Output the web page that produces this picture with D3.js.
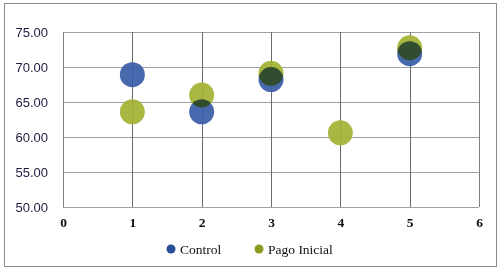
<!DOCTYPE html>
<html>
<head>
<meta charset="utf-8">
<script src="https://cdn.jsdelivr.net/npm/d3@7"></script>
<style>
  body { margin: 0; background: #fff; }
  svg { display: block; }
</style>
</head>
<body>
<div id="chart"></div>
<script>
// PLOT DEFAULTS
const SVG_WIDTH = 503;
const SVG_HEIGHT = 273;
const MARGIN = { left: 63, right: 24, top: 32, bottom: 66 };
const WIDTH = SVG_WIDTH - MARGIN.left - MARGIN.right;
const HEIGHT = SVG_HEIGHT - MARGIN.top - MARGIN.bottom;
const RADIUS = 12.5;

// DATA
const controlX = [1, 2, 3, 5];
const controlY = [68.9, 63.6, 68.2, 71.9];
const pagoX = [1, 2, 3, 4, 5];
const pagoY = [63.6, 66.0, 69.1, 60.6, 72.75];
const xTicks = [0, 1, 2, 3, 4, 5, 6];
const yTicks = [50, 55, 60, 65, 70, 75];
const seriesNames = ['Control', 'Pago Inicial'];
const seriesColors = ['#3a5ca8', '#a3b233'];

const svg = d3.select('#chart')
  .append('svg')
  .attr('width', SVG_WIDTH)
  .attr('height', SVG_HEIGHT);

// outer frame
svg.append('rect')
  .attr('x', 4.5).attr('y', 3.5)
  .attr('width', 492).attr('height', 263)
  .attr('fill', 'none')
  .attr('stroke', '#8a8a8a');

const g = svg.append('g')
  .attr('transform', `translate(${MARGIN.left}, ${MARGIN.top})`);

const xScale = d3.scaleLinear().domain([0, 6]).range([0, WIDTH]);
const yScale = d3.scaleLinear().domain([50, 75]).range([HEIGHT, 0]);

// horizontal grid
g.append('g')
  .selectAll('line')
  .data(yTicks)
  .join('line')
  .attr('x1', 0).attr('x2', WIDTH)
  .attr('y1', d => Math.round(yScale(d)) + 0.5)
  .attr('y2', d => Math.round(yScale(d)) + 0.5)
  .attr('stroke', '#a0a0a0');

// vertical grid
g.append('g')
  .selectAll('line')
  .data(xTicks)
  .join('line')
  .attr('y1', 0).attr('y2', HEIGHT)
  .attr('x1', d => Math.round(xScale(d)) + 0.5)
  .attr('x2', d => Math.round(xScale(d)) + 0.5)
  .attr('stroke', d => (d === 0 || d === 6) ? '#808080' : '#6a6a6a');

// y axis labels
const yAxis = g.append('g')
  .call(d3.axisLeft(yScale).tickValues(yTicks).tickFormat(d3.format('.2f')).tickSize(0).tickPadding(15));
yAxis.select('.domain').remove();
yAxis.selectAll('text')
  .attr('font-family', 'Liberation Sans, Arial, sans-serif')
  .attr('font-size', 13)
  .attr('fill', '#1c1c40');

// x axis labels
const xAxis = g.append('g')
  .attr('transform', `translate(0, ${HEIGHT})`)
  .call(d3.axisBottom(xScale).tickValues(xTicks).tickFormat(d3.format('d')).tickSize(0).tickPadding(10));
xAxis.select('.domain').remove();
xAxis.selectAll('text')
  .attr('font-family', 'Liberation Serif, Times New Roman, serif')
  .attr('font-weight', 'bold')
  .attr('font-size', 13.5)
  .attr('fill', '#111');

// points
const dots = g.append('g').style('isolation', 'isolate');

dots.selectAll('circle.control')
  .data(controlX.map((x, i) => ({ x, y: controlY[i] })))
  .join('circle')
  .attr('class', 'control')
  .attr('cx', d => xScale(d.x))
  .attr('cy', d => yScale(d.y))
  .attr('r', RADIUS)
  .attr('fill', seriesColors[0])
  .attr('fill-opacity', 0.92)
  .style('mix-blend-mode', 'multiply');

dots.selectAll('circle.pago')
  .data(pagoX.map((x, i) => ({ x, y: pagoY[i] })))
  .join('circle')
  .attr('class', 'pago')
  .attr('cx', d => xScale(d.x))
  .attr('cy', d => yScale(d.y))
  .attr('r', RADIUS)
  .attr('fill', seriesColors[1])
  .attr('fill-opacity', 0.92)
  .style('mix-blend-mode', 'multiply');

// legend
const legendX = [171, 259];
const legend = svg.append('g')
  .selectAll('g')
  .data(seriesNames)
  .join('g')
  .attr('transform', (d, i) => `translate(${legendX[i]}, 249)`);

legend.append('circle')
  .attr('r', 4.5)
  .attr('fill', (d, i) => i === 0 ? '#2a4f98' : '#8c9a22');

legend.append('text')
  .attr('x', 9)
  .attr('dy', '0.35em')
  .attr('font-family', 'Liberation Serif, Times New Roman, serif')
  .attr('font-size', 13.5)
  .attr('fill', '#111')
  .text(d => d);
</script>
</body>
</html>
